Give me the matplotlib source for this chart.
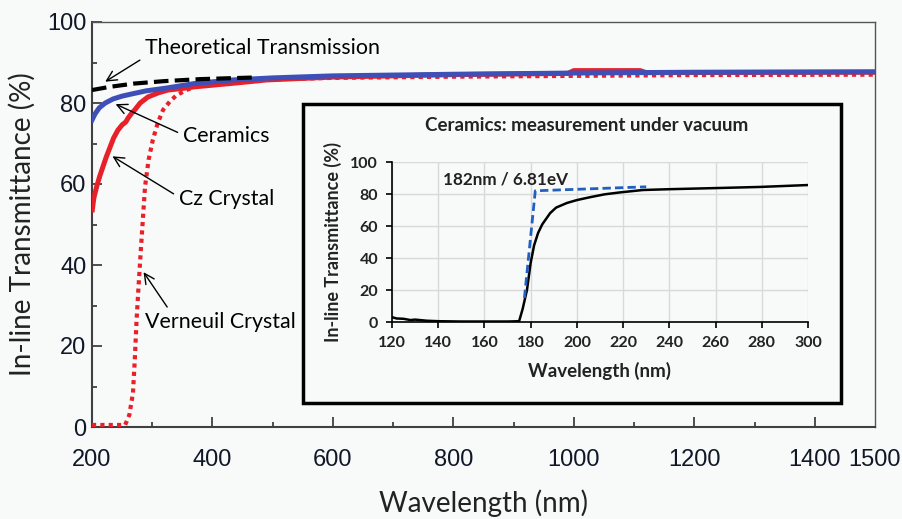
import numpy as np
import matplotlib.pyplot as plt
from matplotlib.patches import Rectangle
from matplotlib.ticker import MultipleLocator, FixedLocator

# main chart data
theo_x = [200, 230, 270, 320, 380, 470]
theo_y = [83.2, 84.0, 84.8, 85.4, 85.9, 86.3]

cer_x = [200, 205, 212, 222, 235, 250, 268, 290, 324, 370, 434, 500, 600, 800, 1000, 1200, 1500]
cer_y = [75.8, 77.3, 78.8, 80.0, 81.0, 81.7, 82.3, 83.0, 83.7, 84.8, 85.7, 86.2, 86.7, 87.1, 87.4, 87.6, 87.7]

cz_x = [200, 203, 208, 213, 218, 224, 230, 236, 243, 250, 256, 260, 266, 271, 280, 293, 310,
        326, 350, 371, 407, 450, 490, 600, 800, 990, 1000, 1110, 1120, 1500]
cz_y = [53.0, 56.5, 59.5, 62.0, 64.2, 66.8, 69.1, 71.4, 73.3, 74.6, 75.3, 76.3, 77.5, 78.3, 80.0, 81.5, 82.5,
        83.2, 83.6, 84.0, 84.5, 85.1, 85.7, 86.4, 87.0, 87.3, 88.0, 88.0, 87.5, 87.6]

ver_x = [200, 255, 262, 268, 271, 274, 277, 280, 283, 288, 294, 301, 309, 318, 330, 341, 360,
         379, 420, 462, 600, 800, 1000, 1200, 1500]
ver_y = [0.5, 0.5, 3.0, 8.4, 16.5, 26.4, 34.0, 41.2, 48.0, 59.3, 66.0, 70.9, 75.0, 78.3, 80.5, 82.0, 83.4,
         84.4, 85.2, 85.7, 86.2, 86.5, 86.7, 86.9, 87.0]

# inset data
ins_x = [120, 122, 125, 128, 130, 135, 140, 150, 160, 170, 175, 176.5, 178.4, 180, 181.5, 183.2, 185,
         188.4, 191, 195.7, 200, 205.7, 212, 218.7, 228.6, 240, 260, 279, 300]
ins_y = [3, 2.2, 2.0, 1.2, 1.5, 0.8, 0.5, 0.3, 0.3, 0.3, 0.5, 8, 20, 37, 48, 55.6, 61,
         68, 71.5, 74.4, 76.2, 78, 79.8, 81, 82.5, 83.0, 83.7, 84.4, 85.6]
edge_x = [177.3, 182, 230]
edge_y = [15, 82, 84.5]

main_xticks = [200, 400, 600, 800, 1000, 1200, 1400, 1500]
bg = '#f8f9f9'
red = '#e8202a'
blue = '#3f4fb8'

fig = plt.figure(figsize=(9.03, 5.19), dpi=100, facecolor=bg)
ax = fig.add_axes([92/903, 1-427/519, 783/903, 405/519])
ax.set_facecolor(bg)

ax.plot(cz_x, cz_y, color=red, lw=3.6, solid_capstyle='butt', zorder=3)
ax.plot(ver_x, ver_y, color=red, lw=3.0, ls=(0, (1, 1)), zorder=3)
ax.plot(cer_x, cer_y, color=blue, lw=3.6, zorder=4)
ax.plot(theo_x, theo_y, color='black', lw=3.0, ls=(0, (3.5, 1.5)), zorder=5)

ax.set_xlim(200, 1500)
ax.set_ylim(0, 100)
ax.xaxis.set_major_locator(FixedLocator(main_xticks))
ax.xaxis.set_minor_locator(FixedLocator([300, 500, 700, 900, 1100, 1300]))
ax.yaxis.set_major_locator(MultipleLocator(20))
ax.yaxis.set_minor_locator(MultipleLocator(10))
ax.tick_params(which='both', direction='in', top=False, right=False, colors='#404040',
               labelcolor='#101828', labelsize=17, labelfontfamily='Liberation Sans')
ax.tick_params(which='major', length=7, width=1.3)
ax.tick_params(which='minor', length=3.5, width=1.3)
ax.tick_params(axis='x', pad=16)
ax.tick_params(axis='y', pad=4)
ax.xaxis.get_major_ticks()[-1].tick1line.set_visible(False)
for s in ['left', 'bottom']:
    ax.spines[s].set_color('#404040')
    ax.spines[s].set_linewidth(1.5)
for s in ['top', 'right']:
    ax.spines[s].set_color('#555555')
    ax.spines[s].set_linewidth(1.0)

ax.set_xlabel('Wavelength (nm)', family='Lato', fontsize=20, color='#222222', labelpad=13)
ax.set_ylabel('In-line Transmittance (%)', family='Lato', fontsize=20, color='#222222', labelpad=8)

arr = dict(arrowstyle='->', color='black', lw=1.0, mutation_scale=18)
fs = 15.4
ax.annotate('Theoretical Transmission', xy=(218, 84.9), xytext=(288, 93.6),
            family='Lato', fontsize=fs, va='center',
            arrowprops=dict(arr, relpos=(0, 0.05)))
ax.annotate('Ceramics', xy=(235, 80), xytext=(351, 71.9),
            family='Lato', fontsize=fs, va='center', arrowprops=dict(arr, relpos=(0, 0.55)))
ax.annotate('Cz Crystal', xy=(230, 67.2), xytext=(344, 56.3),
            family='Lato', fontsize=fs, va='center', arrowprops=dict(arr, relpos=(0, 0.6)))
ax.annotate('Verneuil Crystal', xy=(283, 38.8), xytext=(288, 25.9),
            family='Lato', fontsize=fs, va='center', arrowprops=dict(arr, relpos=(0.17, 1.0)))

# inset frame
fig.patches.append(Rectangle((303/903, 1-403/519), 538/903, 299/519, transform=fig.transFigure,
                             facecolor=bg, edgecolor='black', lw=2.5, zorder=2))
ins = fig.add_axes([392/903, 1-322/519, 416/903, 160/519], zorder=3)
ins.set_facecolor(bg)
ins.plot(ins_x, ins_y, color='black', lw=1.8, zorder=3)
ins.plot(edge_x, edge_y, color='#2060c0', lw=2.0, ls=(0, (3, 1.5)), zorder=4)
ins.set_xlim(120, 300)
ins.set_ylim(0, 100)
ins.xaxis.set_major_locator(MultipleLocator(20))
ins.yaxis.set_major_locator(MultipleLocator(20))
ins.grid(True, color='#d9d9d9', lw=1.0)
ins.set_axisbelow(True)
for s in ['top', 'right']:
    ins.spines[s].set_visible(False)
for s in ['left', 'bottom']:
    ins.spines[s].set_linewidth(1.2)
ins.tick_params(direction='out', length=4, width=1.2, labelsize=11.5, pad=6)
for lab in ins.get_xticklabels() + ins.get_yticklabels():
    lab.set_family('Lato')
    lab.set_fontweight('bold')
    lab.set_color('#222222')
ins.set_xlabel('Wavelength (nm)', family='Lato', fontweight='bold', fontsize=13.5,
               color='#222222', labelpad=9)
ins.set_ylabel('In-line Transmittance (%)', family='Lato', fontweight='bold', fontsize=13,
               color='#222222', labelpad=6)
ins.set_title('Ceramics: measurement under vacuum', family='Lato', fontweight='bold',
              fontsize=13.5, color='#222222', pad=22, x=0.469)
ins.text(142, 89, '182nm / 6.81eV', family='Lato', fontweight='bold', fontsize=12.3,
         color='#222222', va='center')

fig.savefig('out.png', dpi=100, facecolor=bg)
